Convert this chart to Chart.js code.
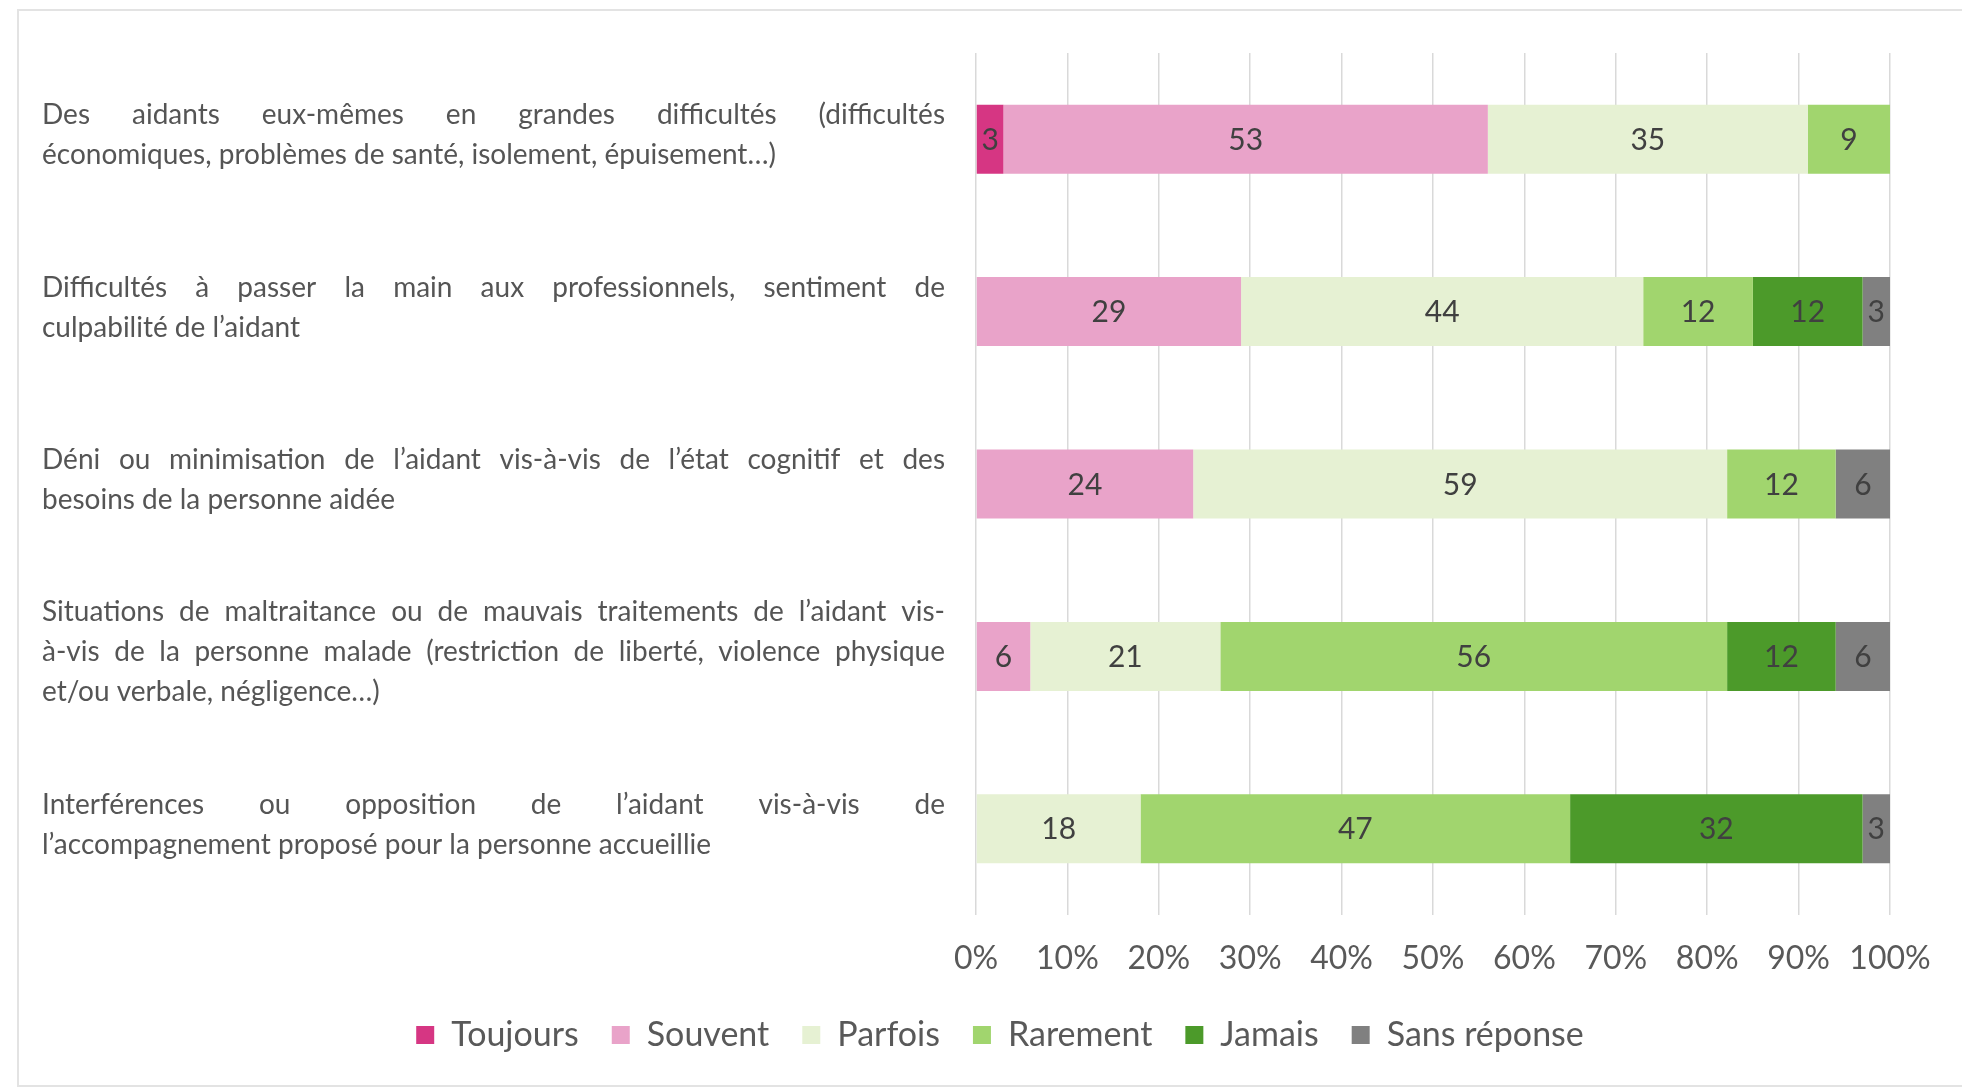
<!DOCTYPE html>
<html>
<head>
<meta charset="utf-8">
<script src="https://cdn.jsdelivr.net/npm/chart.js@4.4.1/dist/chart.umd.min.js"></script>
<style>
  html, body { margin: 0; padding: 0; background: #fff; }
  #wrap { position: relative; width: 1962px; height: 1092px; overflow: hidden; }
  #frame { position: absolute; left: 17px; top: 9px; width: 1970px; height: 1074px; border: 2px solid #e3e3e3; pointer-events: none; }
</style>
</head>
<body>
<div id="wrap">
  <canvas id="myChart" width="1962" height="1092"></canvas>
  <div id="frame"></div>
</div>
<script>
// categories (one array of lines per bar, as wrapped in the original)
var categories = [
  ['Des aidants eux-mêmes en grandes difficultés (difficultés', 'économiques, problèmes de santé, isolement, épuisement…)'],
  ['Difficultés à passer la main aux professionnels, sentiment de', 'culpabilité de l’aidant'],
  ['Déni ou minimisation de l’aidant vis-à-vis de l’état cognitif et des', 'besoins de la personne aidée'],
  ['Situations de maltraitance ou de mauvais traitements de l’aidant vis-', 'à-vis de la personne malade (restriction de liberté, violence physique', 'et/ou verbale, négligence…)'],
  ['Interférences ou opposition de l’aidant vis-à-vis de', 'l’accompagnement proposé pour la personne accueillie']
];

var seriesNames = ['Toujours', 'Souvent', 'Parfois', 'Rarement', 'Jamais', 'Sans réponse'];
var toujours    = [3, 0, 0, 0, 0];
var souvent     = [53, 29, 24, 6, 0];
var parfois     = [35, 44, 59, 21, 18];
var rarement    = [9, 12, 12, 56, 47];
var jamais      = [0, 12, 0, 12, 32];
var sansReponse = [0, 3, 6, 6, 3];
var tickValues  = [0, 10, 20, 30, 40, 50, 60, 70, 80, 90, 100];

var series = [toujours, souvent, parfois, rarement, jamais, sansReponse];
var colors = ['#d63683', '#e9a3c9', '#e6f1d3', '#a1d56e', '#4c9a2a', '#808080'];

// 100% stacked: each bar is scaled to its own total, labels keep the raw values
var totals = categories.map(function(c, i) {
  var t = 0;
  series.forEach(function(s) { t += s[i]; });
  return t;
});

var datasets = series.map(function(s, k) {
  return {
    label: seriesNames[k],
    data: s.map(function(v, i) { return v / totals[i] * 100; }),
    backgroundColor: colors[k],
    borderWidth: 0,
    barPercentage: 0.4,
    categoryPercentage: 1
  };
});

var textColor = '#595959';
Chart.defaults.font.family = 'Lato, "Open Sans", sans-serif';
Chart.defaults.color = textColor;

// values written in the middle of each segment
var valueLabels = {
  id: 'valueLabels',
  afterDatasetsDraw: function(chart) {
    var ctx = chart.ctx;
    ctx.save();
    ctx.font = '30px Lato';
    ctx.fillStyle = '#404040';
    ctx.textAlign = 'center';
    ctx.textBaseline = 'middle';
    chart.data.datasets.forEach(function(ds, k) {
      chart.getDatasetMeta(k).data.forEach(function(bar, i) {
        var v = series[k][i];
        if (!v) return;
        var p = bar.getCenterPoint();
        ctx.fillText(String(v), p.x, p.y + 1);
      });
    });
    ctx.restore();
  }
};

// justified category text on the left
function drawLine(ctx, line, left, width, y, justify) {
  var words = line.split(' ');
  var natural = ctx.measureText(line).width;
  if (!justify || words.length < 2 || natural >= width) {
    ctx.fillText(line, left, y, width);
    return;
  }
  var sum = 0;
  words.forEach(function(w) { sum += ctx.measureText(w).width; });
  var gap = (width - sum) / (words.length - 1);
  var x = left;
  words.forEach(function(w) {
    ctx.fillText(w, x, y);
    x += ctx.measureText(w).width + gap;
  });
}

var categoryText = {
  id: 'categoryText',
  afterDraw: function(chart) {
    var ctx = chart.ctx;
    var yScale = chart.scales.y;
    var left = 42;
    var width = chart.chartArea.left - 31 - left;
    ctx.save();
    ctx.font = '28px Lato';
    ctx.fillStyle = '#555555';
    ctx.textAlign = 'left';
    ctx.textBaseline = 'middle';
    categories.forEach(function(lines, i) {
      var cy = yScale.getPixelForValue(i) - 4;
      var top = cy - (lines.length - 1) * 20;
      lines.forEach(function(line, j) {
        drawLine(ctx, line, left, width, top + j * 40, j < lines.length - 1);
      });
    });
    ctx.restore();
  }
};

var ctx = document.getElementById('myChart').getContext('2d');

var myBarChart = new Chart(ctx, {
  type: 'bar',
  data: {
    labels: categories,
    datasets: datasets
  },
  options: {
    indexAxis: 'y',
    responsive: false,
    animation: false,
    layout: { padding: { top: 53, right: 72, bottom: 30, left: 110 } },
    scales: {
      x: {
        stacked: true,
        min: 0,
        max: 100,
        afterBuildTicks: function(scale) {
          scale.ticks = tickValues.map(function(v) { return { value: v }; });
        },
        afterFit: function(scale) { scale.height = 70; },
        ticks: {
          padding: 24,
          font: { size: 32 },
          color: textColor,
          callback: function(v) { return v + '%'; }
        },
        grid: { color: '#d9d9d9', lineWidth: 1.5, drawTicks: false },
        border: { display: false }
      },
      y: {
        stacked: true,
        ticks: { display: false },
        grid: { display: false },
        border: { display: false },
        afterFit: function(scale) { scale.width = 866; }
      }
    },
    plugins: {
      legend: {
        position: 'bottom',
        labels: {
          boxWidth: 18,
          boxHeight: 18,
          padding: 33,
          color: textColor,
          font: { size: 34 }
        }
      },
      tooltip: { enabled: false }
    }
  },
  plugins: [valueLabels, categoryText]
});
</script>
</body>
</html>
